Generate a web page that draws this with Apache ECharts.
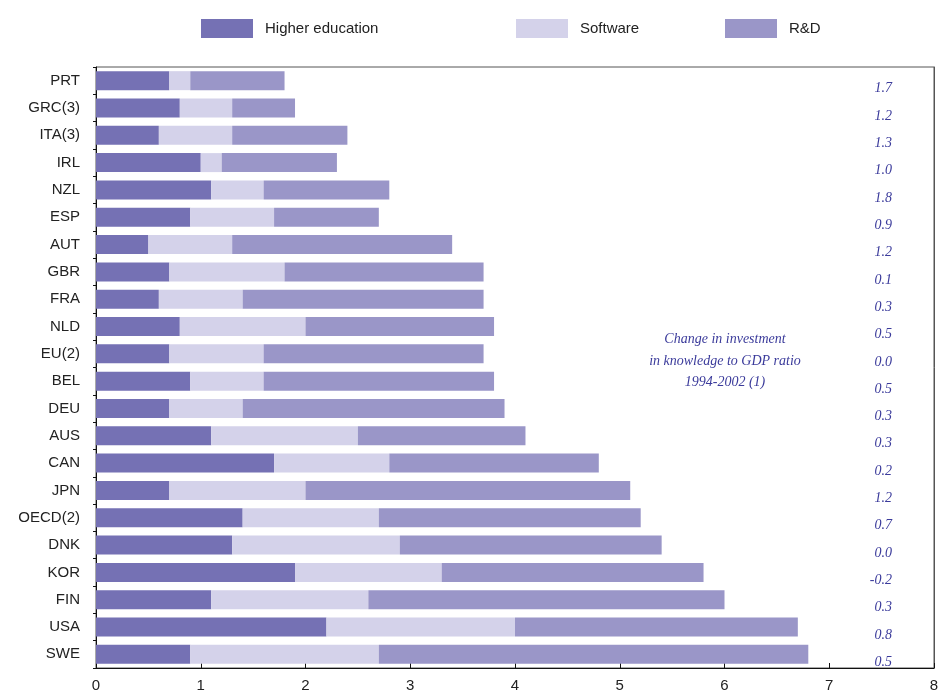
<!DOCTYPE html>
<html>
<head>
<meta charset="utf-8">
<script src="https://cdn.jsdelivr.net/npm/echarts@6/dist/echarts.min.js"></script>
<style>html,body{margin:0;padding:0;background:#fff}#c{width:938px;height:691px}</style>
</head>
<body>
<div id="c"></div>
<script>
const categories = ["PRT","GRC(3)","ITA(3)","IRL","NZL","ESP","AUT","GBR","FRA","NLD","EU(2)","BEL","DEU","AUS","CAN","JPN","OECD(2)","DNK","KOR","FIN","USA","SWE"];
const higherEducation = [0.7,0.8,0.6,1.0,1.1,0.9,0.5,0.7,0.6,0.8,0.7,0.9,0.7,1.1,1.7,0.7,1.4,1.3,1.9,1.1,2.2,0.9];
const software        = [0.2,0.5,0.7,0.2,0.5,0.8,0.8,1.1,0.8,1.2,0.9,0.7,0.7,1.4,1.1,1.3,1.3,1.6,1.4,1.5,1.8,1.8];
const rnd             = [0.9,0.6,1.1,1.1,1.2,1.0,2.1,1.9,2.3,1.8,2.1,2.2,2.5,1.6,2.0,3.1,2.5,2.5,2.5,3.4,2.7,4.1];
const changeRatio     = [1.7,1.2,1.3,1.0,1.8,0.9,1.2,0.1,0.3,0.5,0.0,0.5,0.3,0.3,0.2,1.2,0.7,0.0,-0.2,0.3,0.8,0.5];
const xTicks = [0,1,2,3,4,5,6,7,8];

const colors = {he:'#7571b4', sw:'#d4d2ea', rd:'#9a96c8'};
const chart = echarts.init(document.getElementById('c'));
const legendBase = {top:19, padding:0, itemWidth:52, itemHeight:19, icon:'rect',
  textStyle:{fontSize:15, color:'#222', fontFamily:'Liberation Sans, Arial', padding:[0,0,0,7]}};
chart.setOption({
  animation:false,
  legend:[
    Object.assign({left:201, data:['Higher education']}, legendBase),
    Object.assign({left:516, data:['Software']}, legendBase),
    Object.assign({left:725, data:['R&D']}, legendBase)
  ],
  grid:{left:96, right:4, top:67, bottom:23, show:true, borderColor:'#555', borderWidth:1,
    containLabel:false, outerBoundsMode:'none'},
  xAxis:{type:'value', min:xTicks[0], max:xTicks[xTicks.length-1], interval:1,
    splitLine:{show:false},
    axisLine:{show:true, lineStyle:{color:'#111', width:1}},
    axisTick:{show:true, inside:true, length:5, lineStyle:{color:'#111'}},
    axisLabel:{fontSize:15, color:'#222', margin:10, fontFamily:'Liberation Sans, Arial'}},
  yAxis:[
    {type:'category', data:categories, inverse:true,
      axisLine:{show:true, lineStyle:{color:'#111'}},
      axisTick:{show:true, length:3, lineStyle:{color:'#111'}},
      axisLabel:{fontSize:15, color:'#222', margin:16, fontFamily:'Liberation Sans, Arial'}},
    {type:'category', data:changeRatio.map(v=>v.toFixed(1)), inverse:true, position:'right',
      axisLine:{show:true, lineStyle:{color:'#555'}},
      axisTick:{show:false},
      axisLabel:{inside:true, margin:42,
        formatter: v => '{a|' + v + '}',
        rich:{a:{fontSize:14, fontStyle:'italic', color:'#3b3b9b',
          fontFamily:'Liberation Serif, Times New Roman, serif', padding:[16,0,0,0]}}}}
  ],
  graphic:[
    {type:'text', x:725, y:329, style:{
      text:'Change in investment\nin knowledge to GDP ratio\n1994-2002 (1)',
      textAlign:'center', fill:'#3b3b9b', font:'italic 14px "Liberation Serif", serif', lineHeight:21.5}}],
  series:[
    {name:'Higher education', type:'bar', stack:'t', data:higherEducation, barWidth:19,
      itemStyle:{color:colors.he}},
    {name:'Software', type:'bar', stack:'t', data:software, barWidth:19,
      itemStyle:{color:colors.sw}},
    {name:'R&D', type:'bar', stack:'t', data:rnd, barWidth:19,
      itemStyle:{color:colors.rd}}
  ]
});
</script>
</body>
</html>
